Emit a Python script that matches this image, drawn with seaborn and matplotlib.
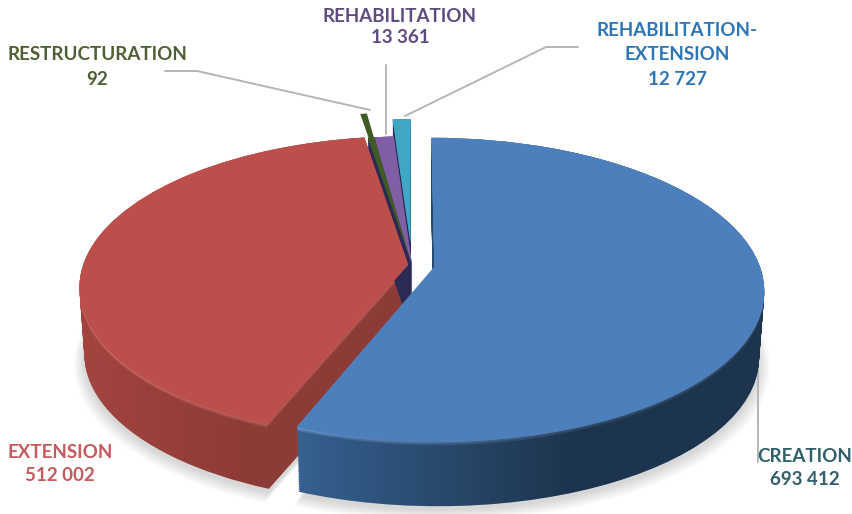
import numpy as np
import matplotlib
matplotlib.use("Agg")
import matplotlib.pyplot as plt
import matplotlib.transforms as mtransforms
from matplotlib.path import Path
import seaborn as sns

categories = ["CREATION", "EXTENSION", "RESTRUCTURATION", "REHABILITATION", "REHABILITATION-\nEXTENSION"]
value_labels = ["693 412", "512 002", "92", "13 361", "12 727"]
# the label says 92 but the green slice is drawn about 1 degree wide in the picture
slice_values = [693412, 512002, 4800, 13361, 12727]
explode = [0.07, 0.012, 0.0, 0.0, 0.155]
green_explode = [0.07, 0.012, 0.22, 0.0, 0.155]

face_colors = ["#4c7fbc", "#bc4f4b", "#3f5a22", "#7f5ea3", "#3fa6c4"]
wall_colors = ["#35608f", "#a3443f", "#2b2a55", "#2b2a55", "#2b2a55"]
rim_colors = ["#86b2e8", "#e98680", "#2b2a55", "#2b2a55", "#2b2a55"]
text_colors = ["#31606b", "#c55a5e", "#4f5f34", "#5f4b80", "#2e75b6"]

# back to front drawing order of the side walls
draw_rank = [4, 2, 3, 1, 0]

CX, CY, RX, RY, K = 412, 265, 325, 148, 0.15
DEPTH, LAYERS = 67, 40


class Tilt(mtransforms.Transform):
    input_dims = 2
    output_dims = 2

    def __init__(self, dy=0.0, scale=1.0):
        super().__init__()
        self.dy = dy
        self.scale = scale

    def transform_non_affine(self, values):
        values = np.asarray(values, dtype=float)
        w = 1 + K * values[:, 1]
        x = CX + self.scale * RX * values[:, 0] / w
        y = CY + self.dy - self.scale * RY * values[:, 1] / w
        return np.column_stack([x, y])


sns.set_theme(style="white")
plt.rcParams["font.family"] = ["Lato", "DejaVu Sans"]

fig = plt.figure(figsize=(8.53, 5.14), dpi=100)
ax = fig.add_axes([0, 0, 1, 1])


def draw_pie(tilt, colors, zorders, pull=explode, **props):
    wedges, _ = ax.pie(slice_values, explode=pull, colors=colors, startangle=90,
                       counterclock=False, wedgeprops=dict(linewidth=0, **props))
    for wedge, z in zip(wedges, zorders):
        wedge.set_transform(tilt + ax.transData)
        wedge.set_zorder(z)
    return wedges


# soft shadow under the pie
for i in range(10):
    draw_pie(Tilt(dy=DEPTH + 4 + i * 0.6, scale=0.985 + i * 0.0035), ["#555555"] * 5, [1 + i] * 5, alpha=0.022)

# side walls, stacked from the bottom up
wall_paths = {0: [], 1: []}
for n in range(LAYERS):
    t = n / (LAYERS - 1)
    tilt = Tilt(dy=DEPTH * (1 - t), scale=0.985 + 0.015 * t)
    colors = []
    for wall, rim in zip(wall_colors, rim_colors):
        ramp = sns.blend_palette([wall, rim], 8)
        colors.append(ramp[0] if t < 0.92 else ramp[int((t - 0.92) / 0.08 * 7)])
    zorders = [100 * (draw_rank[i] + 1) + n for i in range(5)]
    wedges = draw_pie(tilt, colors, zorders)
    for i in wall_paths:
        patch_path = wedges[i].get_patch_transform().transform_path(wedges[i].get_path())
        wall_paths[i].append(tilt.transform_path(patch_path))

# darken the walls towards the right of each big slice
for i, (x0, x1, strength) in {0: (300, 570, 0.46), 1: (80, 240, 0.13)}.items():
    ramp = np.zeros((2, 853, 4))
    ramp[:, :, 3] = np.interp(np.arange(853), [x0, x1], [0, strength])
    im = ax.imshow(ramp, extent=(0, 853, 514, 0), aspect="auto", zorder=100 * (draw_rank[i] + 1) + LAYERS)
    im.set_clip_path(Path.make_compound_path(*wall_paths[i]), ax.transData)

# the green tip sticks out behind, the rest of the green lies flat on the pie
draw_pie(Tilt(), face_colors, [790] * 5, pull=green_explode)
# top faces go above every wall
draw_pie(Tilt(), face_colors, [800] * 5)

ax.set_aspect("auto")
ax.set_xlim(0, 853)
ax.set_ylim(514, 0)
ax.axis("off")

# leader lines
line_color = "#b5b5b5"
ax.plot([165, 197, 370], [71, 71, 110], color=line_color, lw=1.4, zorder=780)
ax.plot([386, 386], [65, 134], color=line_color, lw=1.4, zorder=900)
ax.plot([405, 546, 578], [116, 47, 47], color=line_color, lw=1.4, zorder=900)
ax.plot([758, 758], [365, 462], color=line_color, lw=1.4, zorder=50)

# labels
label_pos = [(805, 468), (60, 464), (97, 67), (400, 27), (677, 55)]
label_spacing = [1.49, 1.43, 1.6, 1.31, 1.55]
for name, value, color, (x, y), gap in zip(categories, value_labels, text_colors, label_pos, label_spacing):
    ax.text(x, y, name + "\n" + value, color=color, fontsize=13.5, fontweight="bold",
            ha="center", va="center", linespacing=gap, zorder=1000)

fig.savefig("out.png", dpi=100)
